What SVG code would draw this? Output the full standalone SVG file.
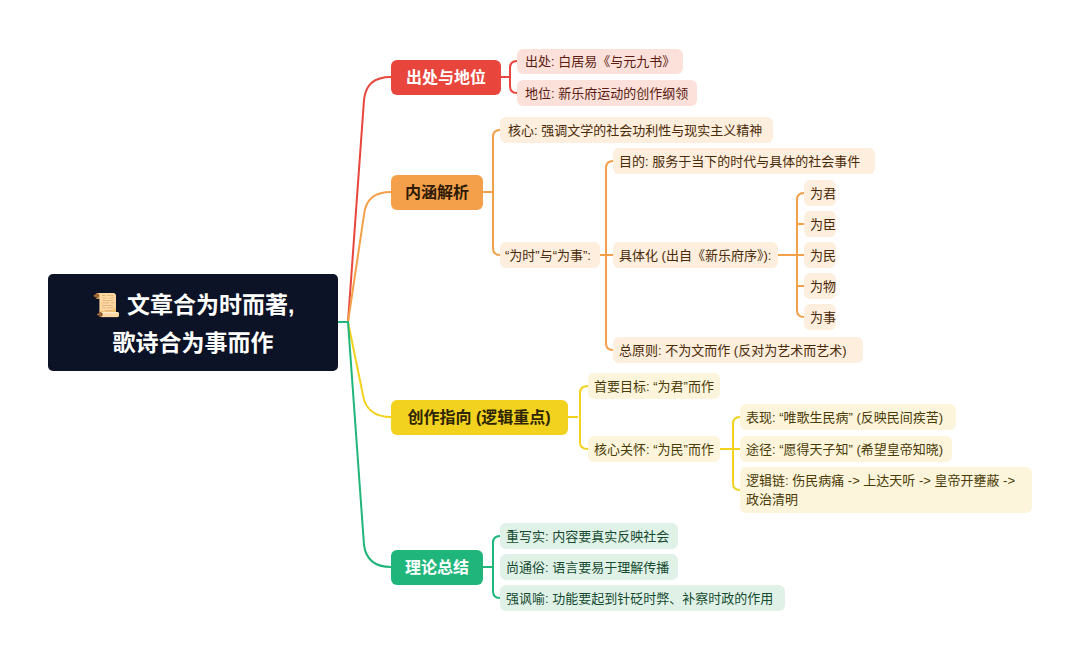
<svg xmlns="http://www.w3.org/2000/svg" width="1080" height="661" viewBox="0 0 1080 661">
<style>
text{font-family:"Liberation Sans","Noto Sans CJK SC",sans-serif}
.b{font-size:16px;font-weight:bold}
.c{font-size:13px}
.l{fill:none;stroke-width:2}
.r{stroke:#e8453c}.o{stroke:#f4a04a}.y{stroke:#f2d21e}.g{stroke:#20b57a}
.cr rect{fill:#fce1da}.cr text{fill:#5a1a10}
.co rect{fill:#fdeedd}.co text{fill:#4a2a08}
.cy rect{fill:#fcf5dc}.cy text{fill:#4a3a05}
.cg rect{fill:#e0f2e8}.cg text{fill:#154a30}
</style>
<rect width="1080" height="661" fill="#fff"/>
<g id="connectors">
<path class="l r" d="M338,322 H348 L364,100 Q366,77 391,77"/>
<path class="l o" d="M348,322 L364,215 Q366,192 391,192"/>
<path class="l y" d="M348,322 L364,400 Q370,417 391,417"/>
<path class="l g" d="M338,322 H348 L364,545 Q367,567 391,567"/>
<path class="l r" d="M501,77 H510 M517,61 Q510,61 510,68 V86 Q510,93 517,93"/>
<path class="l o" d="M483,192 H493 M500,130 Q493,130 493,137 V248 Q493,255 500,255"/>
<path class="l o" d="M600,255 H613 M613,161 Q606,161 606,168 V343 Q606,350 613,350"/>
<path class="l o" d="M778,255 H804 M804,193 Q797,193 797,200 V310 Q797,317 804,317 M797,224 H804 M797,286 H804"/>
<path class="l y" d="M568,417 H578 M588,386 Q580,386 580,393 V442 Q580,449 588,449"/>
<path class="l y" d="M720,449 H740 M740,417 Q733,417 733,424 V483 Q733,490 740,490"/>
<path class="l g" d="M483,567 H493 M500,536 Q493,536 493,543 V591 Q493,598 500,598"/>
</g>
<g id="root"><rect x="48" y="274" width="290" height="97" rx="5" fill="#0d1326"/>
<text x="193" y="313" text-anchor="middle" fill="#fff" font-size="23" font-weight="bold">📜 文章合为时而著,</text>
<text x="193" y="351" text-anchor="middle" fill="#fff" font-size="23" font-weight="bold">歌诗合为事而作</text></g>
<g id="b1"><rect x="391" y="60" width="110" height="35" rx="6" fill="#e8453c"/><text class="b" x="446" y="83" text-anchor="middle" fill="#fff">出处与地位</text></g>
<g id="b1a" class="cr"><rect x="517" y="49" width="166" height="25" rx="6"/><text class="c" x="525" y="66">出处: 白居易《与元九书》</text></g>
<g id="b1b" class="cr"><rect x="517" y="80" width="180" height="26" rx="6"/><text class="c" x="525" y="98">地位: 新乐府运动的创作纲领</text></g>
<g id="b2"><rect x="391" y="175" width="92" height="35" rx="6" fill="#f4a04a"/><text class="b" x="437" y="198" text-anchor="middle" fill="#2e1a05">内涵解析</text></g>
<g id="b2a" class="co"><rect x="500" y="117" width="273" height="26" rx="6"/><text class="c" x="508" y="135">核心: 强调文学的社会功利性与现实主义精神</text></g>
<g id="b2b" class="co"><rect x="500" y="242" width="100" height="26" rx="6"/><text class="c" x="505" y="260">“为时”与“为事”:</text></g>
<g id="b2b1" class="co"><rect x="613" y="148" width="262" height="26" rx="6"/><text class="c" x="619" y="166">目的: 服务于当下的时代与具体的社会事件</text></g>
<g id="b2b2" class="co"><rect x="613" y="242" width="165" height="26" rx="6"/><text class="c" x="619" y="260">具体化 (出自《新乐府序》):</text></g>
<g id="b2b3" class="co"><rect x="613" y="337" width="250" height="26" rx="6"/><text class="c" x="619" y="355">总原则: 不为文而作 (反对为艺术而艺术)</text></g>
<g id="w1" class="co"><rect x="804" y="180" width="32" height="26" rx="6"/><text class="c" x="810" y="198">为君</text></g>
<g id="w2" class="co"><rect x="804" y="211" width="32" height="26" rx="6"/><text class="c" x="810" y="229">为臣</text></g>
<g id="w3" class="co"><rect x="804" y="242" width="32" height="26" rx="6"/><text class="c" x="810" y="260">为民</text></g>
<g id="w4" class="co"><rect x="804" y="273" width="32" height="26" rx="6"/><text class="c" x="810" y="291">为物</text></g>
<g id="w5" class="co"><rect x="804" y="304" width="32" height="26" rx="6"/><text class="c" x="810" y="322">为事</text></g>
<g id="b3"><rect x="391" y="400" width="177" height="35" rx="6" fill="#f2d21e"/><text class="b" x="479" y="423" text-anchor="middle" fill="#2e2505">创作指向 (逻辑重点)</text></g>
<g id="b3a" class="cy"><rect x="588" y="373" width="132" height="26" rx="6"/><text class="c" x="594" y="391">首要目标: “为君”而作</text></g>
<g id="b3b" class="cy"><rect x="588" y="436" width="132" height="26" rx="6"/><text class="c" x="594" y="454">核心关怀: “为民”而作</text></g>
<g id="b3b1" class="cy"><rect x="740" y="404" width="216" height="26" rx="6"/><text class="c" x="746" y="422">表现: “唯歌生民病” (反映民间疾苦)</text></g>
<g id="b3b2" class="cy"><rect x="740" y="436" width="212" height="26" rx="6"/><text class="c" x="746" y="454">途径: “愿得天子知” (希望皇帝知晓)</text></g>
<g id="b3b3" class="cy"><rect x="740" y="467" width="292" height="46" rx="6"/><text class="c" x="746" y="485">逻辑链: 伤民病痛 -&gt; 上达天听 -&gt; 皇帝开壅蔽 -&gt;</text><text class="c" x="746" y="504">政治清明</text></g>
<g id="b4"><rect x="391" y="550" width="92" height="35" rx="6" fill="#20b57a"/><text class="b" x="437" y="573" text-anchor="middle" fill="#fff">理论总结</text></g>
<g id="b4a" class="cg"><rect x="500" y="523" width="178" height="26" rx="6"/><text class="c" x="506" y="541">重写实: 内容要真实反映社会</text></g>
<g id="b4b" class="cg"><rect x="500" y="554" width="178" height="26" rx="6"/><text class="c" x="506" y="572">尚通俗: 语言要易于理解传播</text></g>
<g id="b4c" class="cg"><rect x="500" y="585" width="285" height="26" rx="6"/><text class="c" x="506" y="603">强讽喻: 功能要起到针砭时弊、补察时政的作用</text></g>
</svg>
